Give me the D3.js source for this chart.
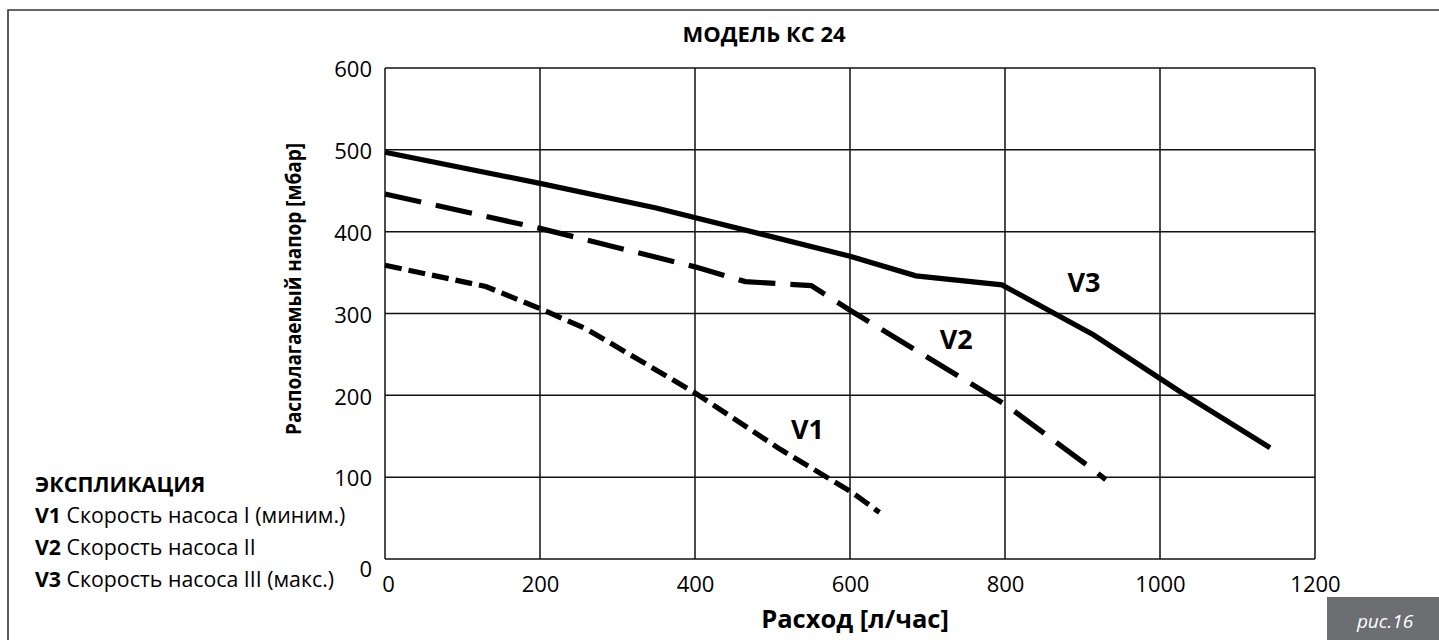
<!DOCTYPE html>
<html>
<head>
<meta charset="utf-8">
<script src="https://cdn.jsdelivr.net/npm/d3@7"></script>
<style>
  body { margin: 0; background: #fff; }
  svg { display: block; }
  text { font-family: "Open Sans", "DejaVu Sans", sans-serif; fill: #000; }
</style>
</head>
<body>
<div id="chart"></div>
<script>
// --- data ---
const title = "МОДЕЛЬ КС 24";
const xLabel = "Расход [л/час]";
const yLabel = "Располагаемый напор [мбар]";
const xTicks = [0, 200, 400, 600, 800, 1000, 1200];
const yTicks = [0, 100, 200, 300, 400, 500, 600];

// flow [l/h], head [mbar]
const v1 = [[0, 359], [130, 333], [200, 306], [260, 281], [400, 203], [510, 134], [600, 83], [638, 57]];
const v2 = [[0, 446], [200, 404], [400, 357], [465, 339], [550, 334], [600, 304], [800, 189], [914, 109], [930, 97]];
const v3 = [[0, 497], [200, 459], [350, 429], [600, 370], [685, 346], [796, 335], [914, 274], [1030, 202], [1142, 136]];

const seriesNames = ["V1", "V2", "V3"];
// where the V-labels sit, in data units
const seriesLabelAt = [[545, 160], [737, 270], [902, 339]];

const legendTitle = "ЭКСПЛИКАЦИЯ";
const legendItems = ["Скорость насоса I (миним.)", "Скорость насоса II", "Скорость насоса III (макс.)"];
const figLabel = "рис.16";

// --- layout ---
const W = 1439, H = 640;
const plot = {left: 385, right: 1315, top: 68, bottom: 559};

const svg = d3.select("#chart").append("svg")
  .attr("width", W)
  .attr("height", H);

// page frame (top + left only, like the scanned sheet)
svg.append("path")
  .attr("d", "M8,640 V10 H1439")
  .attr("fill", "none")
  .attr("stroke", "#333")
  .attr("stroke-width", 1.6);

const x = d3.scaleLinear().domain([0, 1200]).range([plot.left, plot.right]);
const y = d3.scaleLinear().domain([0, 600]).range([plot.bottom, plot.top]);

// grid
const grid = svg.append("g").attr("stroke", "#111").attr("stroke-width", 1.5);
grid.selectAll("line.gx")
  .data(xTicks)
  .enter().append("line")
    .attr("x1", d => x(d)).attr("x2", d => x(d))
    .attr("y1", plot.top).attr("y2", plot.bottom);
grid.selectAll("line.gy")
  .data(yTicks)
  .enter().append("line")
    .attr("x1", plot.left).attr("x2", plot.right)
    .attr("y1", d => y(d)).attr("y2", d => y(d));

// tick labels via d3 axes (no tick marks, no domain)
const xAxis = svg.append("g")
  .attr("transform", "translate(0," + plot.bottom + ")")
  .call(d3.axisBottom(x).tickValues(xTicks).tickSize(0).tickPadding(17).tickFormat(d3.format("d")));
xAxis.select(".domain").remove();
xAxis.selectAll("text")
  .attr("font-size", 22)
  .attr("font-family", '"Open Sans", sans-serif')
  .attr("fill", "#000")
  .attr("dx", d => d === 0 ? 3 : 0);

const yAxis = svg.append("g")
  .attr("transform", "translate(" + plot.left + ",0)")
  .call(d3.axisLeft(y).tickValues(yTicks).tickSize(0).tickPadding(13).tickFormat(d3.format("d")));
yAxis.select(".domain").remove();
yAxis.selectAll("text")
  .attr("font-size", 22)
  .attr("font-family", '"Open Sans", sans-serif')
  .attr("fill", "#000")
  .attr("dy", d => d === 0 ? "0.8em" : "0.4em");

// curves
const line = d3.line()
  .x(d => x(d[0]))
  .y(d => y(d[1]));

const styles = [
  {data: v1, dash: "17,7"},
  {data: v2, dash: "37,15"},
  {data: v3, dash: null}
];

styles.forEach(s => {
  svg.append("path")
    .datum(s.data)
    .attr("fill", "none")
    .attr("stroke", "#000")
    .attr("stroke-width", 5.2)
    .attr("stroke-dasharray", s.dash)
    .attr("d", line);
});

svg.selectAll("text.vlab")
  .data(seriesNames)
  .enter().append("text")
    .attr("class", "vlab")
    .attr("x", (d, i) => x(seriesLabelAt[i][0]))
    .attr("y", (d, i) => y(seriesLabelAt[i][1]))
    .attr("text-anchor", "middle")
    .attr("dominant-baseline", "central")
    .attr("font-size", 27)
    .attr("font-weight", "bold")
    .text(d => d);

// titles
svg.append("text")
  .attr("x", 764)
  .attr("y", 42)
  .attr("text-anchor", "middle")
  .attr("font-size", 22)
  .attr("font-weight", "bold")
  .text(title);

svg.append("text")
  .attr("x", (plot.left + plot.right) / 2 + 5)
  .attr("y", 628)
  .attr("text-anchor", "middle")
  .attr("font-size", 25.5)
  .attr("font-weight", "bold")
  .text(xLabel);

// the original face is narrower, so squeeze a bigger size to the same length
svg.append("text")
  .attr("transform", "translate(301,289) rotate(-90)")
  .attr("text-anchor", "middle")
  .attr("font-size", 21)
  .attr("font-weight", "bold")
  .attr("textLength", 292)
  .attr("lengthAdjust", "spacingAndGlyphs")
  .text(yLabel);

// legend
const legend = svg.append("g").attr("transform", "translate(35,0)");
legend.append("text")
  .attr("y", 492)
  .attr("font-size", 21.5)
  .attr("font-weight", "bold")
  .text(legendTitle);

const rows = legend.selectAll("text.item")
  .data(legendItems)
  .enter().append("text")
    .attr("class", "item")
    .attr("y", (d, i) => 523 + i * 32)
    .attr("font-size", 21.3);
rows.append("tspan").attr("font-weight", "bold").text((d, i) => seriesNames[i] + " ");
rows.append("tspan").text(d => d);

// figure tag bottom right
svg.append("rect")
  .attr("x", 1327).attr("y", 597)
  .attr("width", W - 1327).attr("height", H - 597)
  .attr("fill", "#6d6e71");
svg.append("text")
  .attr("x", 1385)
  .attr("y", 628)
  .attr("text-anchor", "middle")
  .attr("font-size", 19)
  .attr("font-style", "italic")
  .style("fill", "#fff")
  .text(figLabel);
</script>
</body>
</html>
